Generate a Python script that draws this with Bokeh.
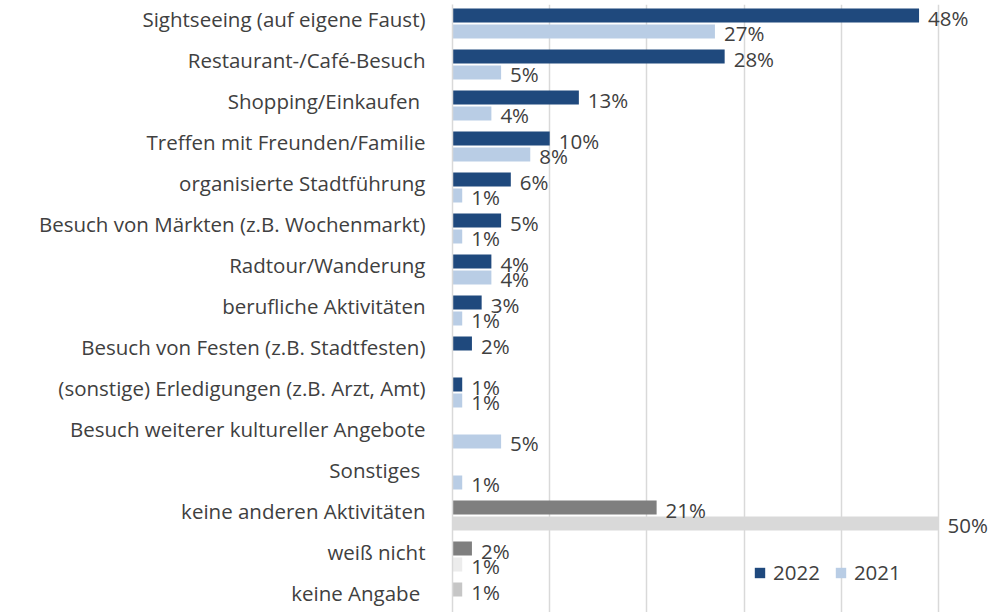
from bokeh.plotting import figure
from bokeh.models import ColumnDataSource, Range1d, FixedTicker, Legend, LegendItem
from bokeh.embed import file_html
from bokeh.resources import INLINE
from bokeh.core.properties import value

categories = [
    "Sightseeing (auf eigene Faust)",
    "Restaurant-/Café-Besuch",
    "Shopping/Einkaufen\u00a0",
    "Treffen mit Freunden/Familie",
    "organisierte Stadtführung",
    "Besuch von Märkten (z.B. Wochenmarkt)",
    "Radtour/Wanderung",
    "berufliche Aktivitäten",
    "Besuch von Festen (z.B. Stadtfesten)",
    "(sonstige) Erledigungen (z.B. Arzt, Amt)",
    "Besuch weiterer kultureller Angebote",
    "Sonstiges\u00a0",
    "keine anderen Aktivitäten",
    "weiß nicht",
    "keine Angabe\u00a0",
]
v2022 = [48, 28, 13, 10, 6, 5, 4, 3, 2, 1, None, None, 21, 2, 1]
v2021 = [27, 5, 4, 8, 1, 1, 4, 1, None, 1, 5, 1, 50, 1, None]
n_main = 12  # first 12 rows are coloured by year; the rest are grey
grey2022 = ["#7f7f7f", "#7f7f7f", "#c6c6c6"]
grey2021 = ["#d9d9d9", "#ececec", "#d9d9d9"]
grid_ticks = [0, 10, 20, 30, 40, 50]

BLUE22 = "#1f497d"
BLUE21 = "#b9cde5"
TXT = "#404040"
FONT = "Open Sans"
FS = "20.5px"

OFF = 0.195
BH = 0.34
LABEL_SHIFT = -0.1

def build(vals, offset, rows, colors=None):
    d = dict(y=[], x=[], lab=[], c=[])
    for k, i in enumerate(rows):
        v = vals[i]
        if v is None:
            continue
        d["y"].append(i + offset)
        d["x"].append(v)
        d["lab"].append(f"{v}%")
        d["c"].append(colors[k] if colors else None)
    return ColumnDataSource(d)

main_rows = list(range(n_main))
grey_rows = list(range(n_main, len(categories)))
s22 = build(v2022, -OFF, main_rows)
s21 = build(v2021, OFF, main_rows)
g22 = build(v2022, -OFF, grey_rows, grey2022)
g21 = build(v2021, OFF, grey_rows, grey2021)

W, H = 992, 612
LEFT, TOP = 452, 4
x_end = (W - LEFT) / 9.72
p = figure(width=W, height=H, output_backend="svg", toolbar_location=None,
           x_range=Range1d(0, x_end),
           y_range=Range1d(start=(H - 23) / 41.0, end=-(23 - TOP) / 41.0),
           min_border_left=LEFT, min_border_right=0, min_border_top=TOP, min_border_bottom=0)
p.outline_line_color = None
p.background_fill_color = "white"
p.border_fill_color = "white"

r22 = p.hbar(y="y", right="x", left=0, height=BH, source=s22, fill_color=BLUE22, line_color=None)
r21 = p.hbar(y="y", right="x", left=0, height=BH, source=s21, fill_color=BLUE21, line_color=None)
p.hbar(y="y", right="x", left=0, height=BH, source=g22, fill_color="c", line_color=None)
p.hbar(y="y", right="x", left=0, height=BH, source=g21, fill_color="c", line_color=None)

for src in (s22, s21, g22, g21):
    p.text(x="x", y="y", text="lab", source=src, x_offset=9, y_offset=2,
           text_align="left", text_baseline="middle", text_font=value(FONT),
           text_font_size=FS, text_color=TXT)

p.xaxis.visible = False
p.xgrid.ticker = FixedTicker(ticks=grid_ticks)
p.xgrid.grid_line_color = "#d9d9d9"
p.xgrid.grid_line_width = 1.5
p.ygrid.visible = False

tick_pos = [i + LABEL_SHIFT for i in range(len(categories))]
yax = p.yaxis[0]
yax.ticker = FixedTicker(ticks=tick_pos)
yax.major_label_overrides = {t: c for t, c in zip(tick_pos, categories)}
yax.major_tick_line_color = None
yax.minor_tick_line_color = None
yax.axis_line_color = "#d9d9d9"
yax.axis_line_width = 1.5
yax.major_label_standoff = 21
yax.major_label_text_font = FONT
yax.major_label_text_font_size = FS
yax.major_label_text_color = TXT

legend = Legend(items=[LegendItem(label="2022", renderers=[r22]),
                       LegendItem(label="2021", renderers=[r21])],
                orientation="horizontal", location=(301, 26),
                padding=0, margin=0, spacing=14, label_standoff=7,
                glyph_width=13, glyph_height=13, label_height=20,
                border_line_color=None, background_fill_alpha=0,
                label_text_font=FONT, label_text_font_size=FS,
                label_text_color=TXT)
p.add_layout(legend, "center")

open("out.html", "w").write(file_html(p, INLINE))
